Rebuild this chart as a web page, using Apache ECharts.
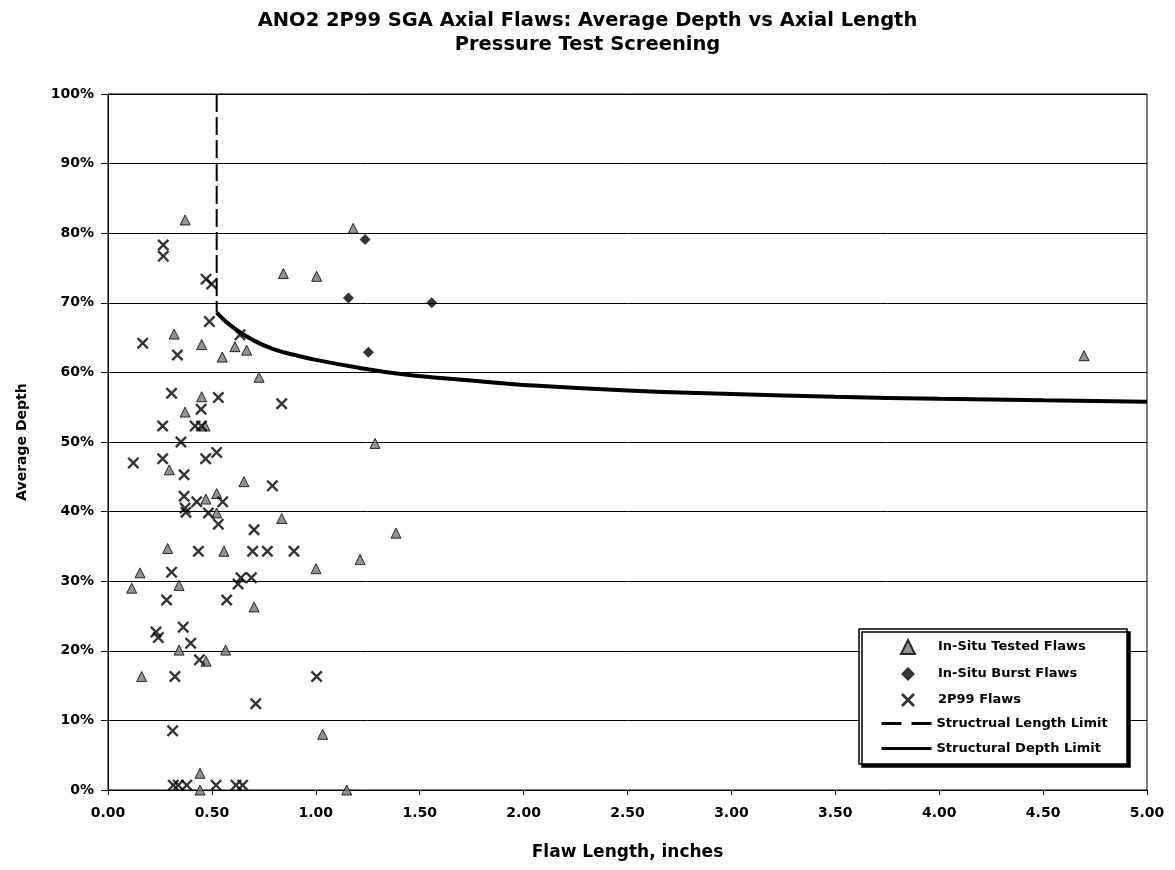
<!DOCTYPE html>
<html>
<head>
<meta charset="utf-8">
<title>ANO2 2P99 SGA Axial Flaws</title>
<script src="https://cdn.jsdelivr.net/npm/echarts@6/dist/echarts.min.js"></script>
<style>
    html, body { margin: 0; padding: 0; background: #fff; }
    #chart { width: 1175px; height: 870px; }
</style>
</head>
<body>
<div id="chart"></div>
<script>
// In-Situ Tested Flaws  [长度, 平均深度%]
var testedFlaws = [
    [0.371, 81.9], [0.844, 74.2], [1.004, 73.8], [1.18, 80.7], [0.318, 65.5],
    [0.451, 64.0], [0.611, 63.7], [0.667, 63.2], [0.55, 62.2], [0.727, 59.3],
    [0.451, 56.5], [0.371, 54.3], [0.467, 52.3], [0.295, 46.0], [0.654, 44.3],
    [0.471, 41.8], [0.523, 42.6], [0.523, 39.8], [0.836, 39.0], [0.287, 34.7],
    [0.558, 34.3], [0.154, 31.2], [0.114, 29.0], [0.342, 29.4], [0.703, 26.3],
    [0.342, 20.1], [0.566, 20.1], [0.472, 18.5], [0.162, 16.3], [0.443, 2.4],
    [0.443, 0], [1.285, 49.8], [1.386, 36.9], [1.213, 33.1], [1.001, 31.8],
    [1.033, 8.0], [1.149, 0], [4.697, 62.4]
];

// In-Situ Burst Flaws
var burstFlaws = [
    [1.157, 70.7], [1.237, 79.1], [1.253, 62.9], [1.558, 70.0]
];

// 2P99 Flaws
var p99Flaws = [
    [0.266, 78.3], [0.266, 76.7], [0.472, 73.4], [0.499, 72.7], [0.488, 67.3],
    [0.167, 64.2], [0.334, 62.5], [0.635, 65.4], [0.306, 57.0], [0.531, 56.4],
    [0.836, 55.5], [0.448, 54.7], [0.263, 52.3], [0.419, 52.3], [0.45, 52.3],
    [0.351, 50.0], [0.122, 47.0], [0.263, 47.6], [0.47, 47.6], [0.523, 48.5],
    [0.366, 45.3], [0.791, 43.7], [0.366, 42.2], [0.427, 41.4], [0.552, 41.4],
    [0.371, 40.5], [0.375, 39.9], [0.483, 39.8], [0.531, 38.2], [0.703, 37.4],
    [0.435, 34.3], [0.696, 34.3], [0.767, 34.3], [0.895, 34.3], [0.306, 31.3],
    [0.626, 29.6], [0.64, 30.5], [0.69, 30.5], [0.282, 27.3], [0.571, 27.3],
    [0.231, 22.7], [0.242, 21.9], [0.362, 23.4], [0.398, 21.1], [0.44, 18.7],
    [0.322, 16.3], [0.711, 12.4], [0.311, 8.5], [1.004, 16.3], [0.314, 0.7],
    [0.338, 0.7], [0.379, 0.7], [0.52, 0.7], [0.616, 0.7], [0.648, 0.7]
];

// Structrual Length Limit (竖直虚线)
var lengthLimit = [[0.523, 100], [0.523, 68.6]];

// Structural Depth Limit (曲线)
var depthLimitX = [0.523, 0.6, 0.7, 0.8, 0.9, 1.0, 1.2, 1.4, 1.6, 1.8, 2.0, 2.5, 3.0, 3.5, 4.0, 4.5, 5.0];
var depthLimitY = [68.6, 66.5, 64.6, 63.3, 62.5, 61.8, 60.7, 59.8, 59.2, 58.7, 58.2, 57.4, 56.9, 56.5, 56.2, 56.0, 55.8];

var depthLimit = depthLimitX.map(function (x, i) { return [x, depthLimitY[i]]; });

var FONT = 'DejaVu Sans';
// X 形符号
var crossPath = 'path://M0,1.4 L1.4,0 L5,3.6 L8.6,0 L10,1.4 L6.4,5 L10,8.6 L8.6,10 L5,6.4 L1.4,10 L0,8.6 L3.6,5 Z';

var legendText = {
    fontFamily: FONT,
    fontSize: 13,
    fontWeight: 'bold',
    color: '#000'
};

var chart = echarts.init(document.getElementById('chart'));

var option = {
    backgroundColor: '#fff',
    animation: false,
    title: {
        text: 'ANO2 2P99 SGA Axial Flaws: Average Depth vs Axial Length\nPressure Test Screening',
        left: 'center',
        top: 4,
        textStyle: {
            fontFamily: FONT,
            fontSize: 19.5,
            fontWeight: 'bold',
            color: '#000',
            lineHeight: 24
        }
    },
    grid: {
        left: 108,
        right: 28,
        top: 94,
        bottom: 80,
        show: true,
        borderColor: '#000',
        borderWidth: 1
    },
    // 图例背景框（带阴影）
    graphic: [{
        type: 'rect',
        z: 5,
        shape: { x: 859, y: 629, width: 268, height: 135 },
        style: {
            fill: '#fff',
            stroke: '#000',
            lineWidth: 1.5,
            shadowColor: '#000',
            shadowOffsetX: 3,
            shadowOffsetY: 3,
            shadowBlur: 0
        }
    }],
    // 两个图例：散点 和 线
    legend: [
        {
            orient: 'vertical',
            left: 895,
            top: 634,
            z: 10,
            itemWidth: 14,
            itemHeight: 14,
            itemGap: 12,
            textStyle: Object.assign({ padding: [0, 0, 0, 18] }, legendText),
            data: ['In-Situ Tested Flaws', 'In-Situ Burst Flaws', '2P99 Flaws']
        },
        {
            orient: 'vertical',
            left: 875,
            top: 712,
            z: 10,
            itemWidth: 50,
            itemHeight: 14,
            itemGap: 12,
            textStyle: legendText,
            data: [
                {
                    name: 'Structrual Length Limit',
                    itemStyle: { opacity: 0 },
                    lineStyle: { width: 3, type: [20, 10] }
                },
                {
                    name: 'Structural Depth Limit',
                    itemStyle: { opacity: 0 },
                    lineStyle: { width: 3 }
                }
            ]
        }
    ],
    xAxis: {
        type: 'value',
        min: 0,
        max: 5,
        interval: 0.5,
        name: 'Flaw Length, inches',
        nameLocation: 'middle',
        nameGap: 54,
        nameTextStyle: { fontFamily: FONT, fontSize: 17, fontWeight: 'bold', color: '#000' },
        axisLine: { lineStyle: { color: '#000', width: 1 } },
        axisTick: { show: true, inside: false, length: 5, lineStyle: { color: '#000' } },
        splitLine: { show: false },
        axisLabel: {
            margin: 16,
            fontFamily: FONT,
            fontSize: 14,
            fontWeight: 'bold',
            color: '#000',
            formatter: function (v) { return v.toFixed(2); }
        }
    },
    yAxis: {
        type: 'value',
        min: 0,
        max: 100,
        interval: 10,
        name: 'Average Depth',
        nameLocation: 'middle',
        nameRotate: 90,
        nameGap: 79,
        nameTextStyle: { fontFamily: FONT, fontSize: 14, fontWeight: 'bold', color: '#000' },
        axisLine: { show: true, lineStyle: { color: '#000', width: 1 } },
        axisTick: { show: true, length: 7, lineStyle: { color: '#000' } },
        splitLine: { show: true, lineStyle: { color: '#000', width: 1 } },
        axisLabel: {
            margin: 14,
            fontFamily: FONT,
            fontSize: 14,
            fontWeight: 'bold',
            color: '#000',
            formatter: '{value}%'
        }
    },
    series: [
        {
            name: 'In-Situ Tested Flaws',
            type: 'scatter',
            symbol: 'triangle',
            symbolSize: 10,
            clip: false,
            itemStyle: { color: '#777', borderColor: '#000', borderWidth: 1 },
            data: testedFlaws,
            z: 3
        },
        {
            name: 'In-Situ Burst Flaws',
            type: 'scatter',
            symbol: 'diamond',
            symbolSize: 11,
            clip: false,
            itemStyle: { color: '#000' },
            data: burstFlaws,
            z: 3
        },
        {
            name: '2P99 Flaws',
            type: 'scatter',
            symbol: crossPath,
            symbolSize: 12,
            clip: false,
            itemStyle: { color: '#000' },
            data: p99Flaws,
            z: 3
        },
        {
            name: 'Structrual Length Limit',
            type: 'line',
            symbol: 'none',
            lineStyle: { color: '#000', width: 2, type: [18, 5] },
            itemStyle: { color: '#000' },
            data: lengthLimit,
            z: 2
        },
        {
            name: 'Structural Depth Limit',
            type: 'line',
            symbol: 'none',
            smooth: true,
            lineStyle: { color: '#000', width: 4 },
            itemStyle: { color: '#000' },
            data: depthLimit,
            z: 2
        }
    ]
};

chart.setOption(option);
</script>
</body>
</html>
